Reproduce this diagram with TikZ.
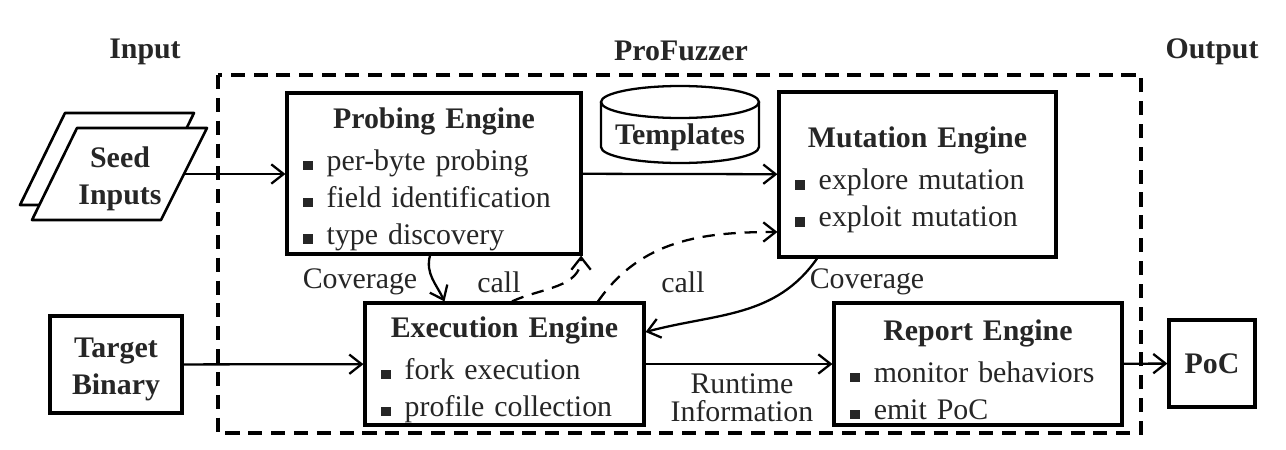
\documentclass[tikz,border=0pt]{standalone}
\usepackage{fontspec}
\setmainfont{Liberation Serif}
\usetikzlibrary{arrows.meta}

\newcommand{\figfont}{\fontsize{17}{21}\selectfont}
\newcommand{\bsq}{{\color{black!85}\rule{5.5pt}{5.5pt}}\hspace{8pt}}
\newcommand{\boxhead}[1]{\makebox[\linewidth]{\rule{0pt}{18pt}\bfseries #1}\\[3pt]}

\tikzset{
  engine/.style={draw, line width=1.8pt, align=left, inner xsep=0.32cm, inner ysep=0pt},
  plainbox/.style={draw, line width=1.8pt, align=center, font=\figfont\bfseries},
  seedbox/.style={draw, line width=1.5pt, fill=white, line join=round},
  dbase/.style={draw, line width=1.3pt},
  pfframe/.style={line width=1.8pt, dash pattern=on 8pt off 5pt},
  flow/.style={-{Straight Barb[length=7pt,width=11pt]}, line width=1.3pt},
  callflow/.style={flow, dash pattern=on 7pt off 5pt},
}

\begin{document}
\begin{tikzpicture}[x=0.02cm, y=0.02cm, every node/.style={font=\figfont, text=black!85}]
  \useasboundingbox (0,0) rectangle (1286,-450);

  % Column headings
  \node (hin) at (145,-52) {\textbf{Input}};
  \node (hpf) at (681,-51) {\textbf{ProFuzzer}};
  \node (hout) at (1212,-52) {\textbf{Output}};

  % ProFuzzer frame
  \draw[pfframe] (218,-75) rectangle (1141,-433);

  % Inputs
  \draw[seedbox] (65,-113) -- (194,-113) -- (149,-205) -- (20,-205) -- cycle;
  \draw[seedbox] (77,-128) -- (207,-128) -- (161,-220) -- (32,-220) -- cycle;
  \node[align=center, font=\figfont\bfseries] (seed) at (120,-179) {Seed\\Inputs};
  \coordinate (seedout) at (184,-174);
  \node[plainbox, minimum width=2.64cm, minimum height=1.94cm] (target) at (116,-364.5)
    {\rule{0pt}{17pt}Target\\Binary};

  % Engines
  \node[engine, text width=5.24cm, minimum height=3.22cm] (probe) at (434,-173.5)
    {\boxhead{Probing Engine}\bsq per-byte probing\\ \bsq field identification\\ \bsq type discovery};
  \node[engine, text width=4.9cm, minimum height=3.3cm] (mut) at (917.5,-174.5)
    {\boxhead{Mutation Engine}\bsq explore mutation\\ \bsq exploit mutation};
  \node[engine, text width=4.94cm, minimum height=2.44cm] (exec) at (504.5,-364)
    {\boxhead{Execution Engine}\bsq fork execution\\ \bsq profile collection};
  \node[engine, text width=5.12cm, minimum height=2.44cm] (report) at (978,-364)
    {\boxhead{Report Engine}\bsq monitor behaviors\\ \bsq emit PoC};

  % Templates store
  \draw[dbase] (601,-102) -- (601,-147) arc[start angle=180, end angle=360, x radius=1.58cm, y radius=0.32cm] -- (759,-102);
  \draw[dbase] (680,-102) ellipse[x radius=1.58cm, y radius=0.32cm];
  \node (templ) at (680,-137) {\textbf{Templates}};

  % Output
  \node[plainbox, minimum width=1.72cm, minimum height=1.74cm] (poc) at (1212,-363.5) {PoC};

  % Straight connections
  \draw[flow] (seedout) -- (seedout -| probe.west);
  \foreach \a/\b in {probe/mut, target/exec, exec/report, report/poc}
    \draw[flow] (\a) -- (\b);

  % Feedback and calls
  \draw[flow] ([xshift=-0.08cm]probe.south) to[out=-105, in=115] ([xshift=-1.2cm]exec.north);
  \draw[callflow] ([xshift=0.15cm]exec.north) to[out=25, in=-90] ([xshift=-0.03cm]probe.south east);
  \draw[callflow] ([xshift=1.87cm]exec.north) to[out=55, in=180] ([yshift=-1.15cm]mut.west);
  \draw[flow] ([xshift=-2.01cm]mut.south) to[out=-125, in=15] ([yshift=0.64cm]exec.east);

  % Labels
  \node (covin) at (360,-282) {Coverage};
  \node (callin) at (499,-282) {call};
  \node (callout) at (683,-282) {call};
  \node (covout) at (867,-282) {Coverage};
  \node[align=center] (rtinfo) at (742,-398) {Runtime\\[-5pt]Information};
\end{tikzpicture}
\end{document}
